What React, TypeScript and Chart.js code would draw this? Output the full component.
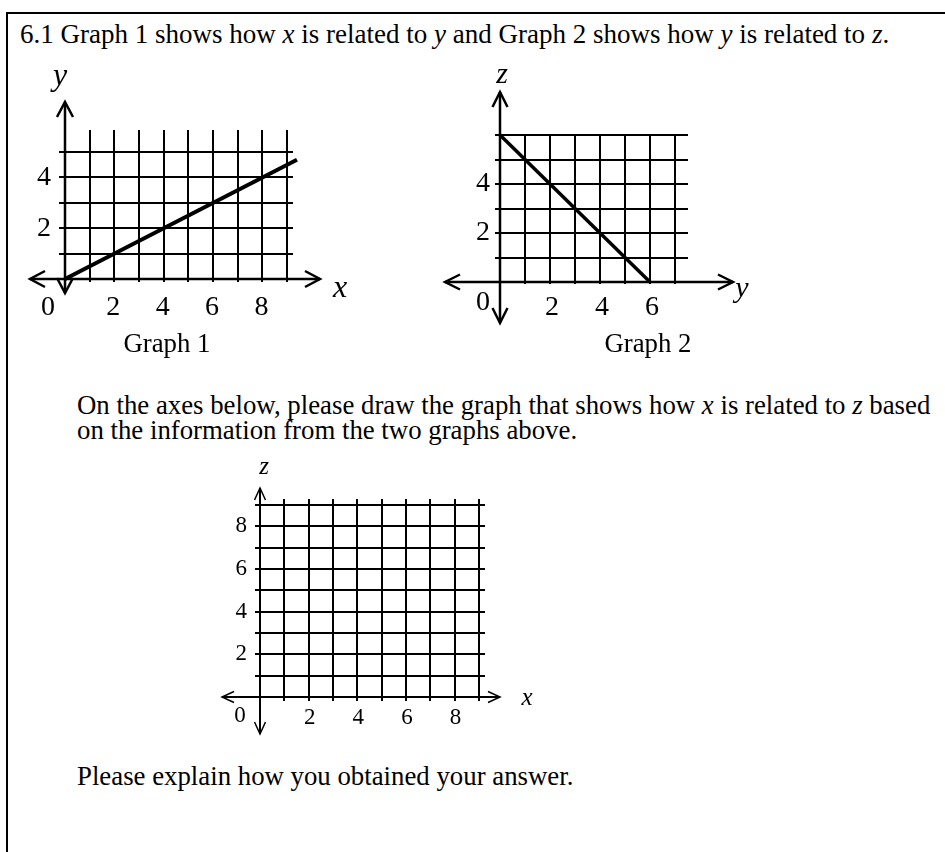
import React, { useEffect, useRef } from "react";
import { Chart, registerables } from "chart.js";

Chart.register(...registerables);

const SERIF = '"Liberation Serif", "Times New Roman", Times, serif';

// Graph 1: y against x
const g1LineX = [0, 9.4];
const g1LineY = [0, 4.7];
const g1GridX = [0, 1, 2, 3, 4, 5, 6, 7, 8, 9];
const g1GridY = [0, 1, 2, 3, 4, 5];
const g1TickX = [2, 4, 6, 8];
const g1TickY = [2, 4];

// Graph 2: z against y
const g2LineY = [0, 6];
const g2LineZ = [6, 0];
const g2GridX = [0, 1, 2, 3, 4, 5, 6, 7];
const g2GridY = [0, 1, 2, 3, 4, 5, 6];
const g2TickX = [2, 4, 6];
const g2TickY = [2, 4];

// Answer grid: z against x (left blank for the student)
const g3GridX = [0, 1, 2, 3, 4, 5, 6, 7, 8, 9];
const g3GridY = [0, 1, 2, 3, 4, 5, 6, 7, 8, 9];
const g3TickX = [2, 4, 6, 8];
const g3TickY = [2, 4, 6, 8];

type Rect = { left: number; top: number; width: number; height: number };
type Area = { left: number; top: number; right: number; bottom: number };

type GraphSpec = {
  box: Rect;
  area: Area;
  xMax: number;
  yMax: number;
  gridX: number[];
  gridY: number[];
  tickX: number[];
  tickY: number[];
  xName: string;
  yName: string;
  line?: { x: number[]; y: number[] };
  style: {
    tickLenX: number;
    tickLenY: number;
    gridWidth: number;
    axisWidth: number;
    lineWidth: number;
    arrows: { left: number; right: number; up: number; down: number };
    head: { len: number; half: number; width: number };
    labelSize: number;
    xLabelDx: number;
    xLabelDy: number;
    yLabelGap: number;
    zero: { dx: number; dy: number };
    nameSize: number;
    xNamePos: { dx: number; dy: number };
    yNamePos: { dx: number; dy: number };
  };
};

const graph1: GraphSpec = {
  box: { left: 0, top: 60, width: 370, height: 300 },
  area: { left: 65, top: 130, right: 293, bottom: 279 },
  xMax: 9.24,
  yMax: 5.87,
  gridX: g1GridX,
  gridY: g1GridY,
  tickX: g1TickX,
  tickY: g1TickY,
  xName: "x",
  yName: "y",
  line: { x: g1LineX, y: g1LineY },
  style: {
    tickLenX: 3,
    tickLenY: 6,
    gridWidth: 2,
    axisWidth: 2.5,
    lineWidth: 4,
    arrows: { left: 35, right: 27, up: 28, down: 14 },
    head: { len: 15, half: 8, width: 2.5 },
    labelSize: 28,
    xLabelDx: -1,
    xLabelDy: 29,
    yLabelGap: 14,
    zero: { dx: -17, dy: 29 },
    nameSize: 32,
    xNamePos: { dx: 47, dy: 18 },
    yNamePos: { dx: -5, dy: -45 },
  },
};

const graph2: GraphSpec = {
  box: { left: 420, top: 55, width: 345, height: 300 },
  area: { left: 500, top: 135, right: 688, bottom: 282 },
  xMax: 7.52,
  yMax: 6,
  gridX: g2GridX,
  gridY: g2GridY,
  tickX: g2TickX,
  tickY: g2TickY,
  xName: "y",
  yName: "z",
  line: { x: g2LineY, y: g2LineZ },
  style: {
    tickLenX: 2,
    tickLenY: 5,
    gridWidth: 2,
    axisWidth: 2.5,
    lineWidth: 3.5,
    arrows: { left: 55, right: 45, up: 43, down: 41 },
    head: { len: 15, half: 7.5, width: 2.5 },
    labelSize: 28,
    xLabelDx: 2,
    xLabelDy: 26,
    yLabelGap: 10,
    zero: { dx: -17, dy: 21 },
    nameSize: 30,
    xNamePos: { dx: 54, dy: 15 },
    yNamePos: { dx: 2, dy: -52 },
  },
};

const graph3: GraphSpec = {
  box: { left: 190, top: 440, width: 360, height: 310 },
  area: { left: 260, top: 499, right: 485, bottom: 697 },
  xMax: 9.25,
  yMax: 9.28,
  gridX: g3GridX,
  gridY: g3GridY,
  tickX: g3TickX,
  tickY: g3TickY,
  xName: "x",
  yName: "z",
  style: {
    tickLenX: 4,
    tickLenY: 5,
    gridWidth: 2,
    axisWidth: 2,
    lineWidth: 3,
    arrows: { left: 38, right: 15, up: 11, down: 37 },
    head: { len: 12, half: 5.5, width: 1.5 },
    labelSize: 23,
    xLabelDx: 1,
    xLabelDy: 21,
    yLabelGap: 13,
    zero: { dx: -20, dy: 19 },
    nameSize: 25,
    xNamePos: { dx: 42, dy: 8 },
    yNamePos: { dx: 4, dy: -25 },
  },
};

function chevron(
  ctx: CanvasRenderingContext2D,
  tipX: number,
  tipY: number,
  dirX: number,
  dirY: number,
  len: number,
  half: number
) {
  const bx = tipX - dirX * len;
  const by = tipY - dirY * len;
  const px = -dirY * half;
  const py = dirX * half;
  ctx.beginPath();
  ctx.moveTo(bx + px, by + py);
  ctx.lineTo(tipX, tipY);
  ctx.lineTo(bx - px, by - py);
  ctx.stroke();
}

function GridGraph({ spec }: { spec: GraphSpec }) {
  const ref = useRef<HTMLCanvasElement>(null);

  useEffect(() => {
    const canvas = ref.current;
    if (!canvas) return;
    const { box, area, style } = spec;
    const padding = {
      left: area.left - box.left,
      right: box.left + box.width - area.right,
      top: area.top - box.top,
      bottom: box.top + box.height - area.bottom,
    };

    const plugin = {
      id: "gridAxes",
      // square grid with short tick stubs outside the axes
      beforeDatasetsDraw(chart: any) {
        const ctx: CanvasRenderingContext2D = chart.ctx;
        const xs = chart.scales.x;
        const ys = chart.scales.y;
        const ca = chart.chartArea;
        ctx.save();
        ctx.strokeStyle = "#000";
        ctx.lineWidth = style.gridWidth;
        ctx.lineCap = "butt";
        ctx.beginPath();
        spec.gridX.forEach((v) => {
          const px = Math.round(xs.getPixelForValue(v));
          ctx.moveTo(px, ca.top);
          ctx.lineTo(px, ca.bottom + style.tickLenX);
        });
        spec.gridY.forEach((v) => {
          const py = Math.round(ys.getPixelForValue(v));
          ctx.moveTo(ca.left - style.tickLenY, py);
          ctx.lineTo(ca.right, py);
        });
        ctx.stroke();
        ctx.restore();
      },
      // axes with open arrowheads, tick numbers and axis names
      afterDraw(chart: any) {
        const ctx: CanvasRenderingContext2D = chart.ctx;
        const xs = chart.scales.x;
        const ys = chart.scales.y;
        const ca = chart.chartArea;
        const ox = Math.round(xs.getPixelForValue(0));
        const oy = Math.round(ys.getPixelForValue(0));
        const a = style.arrows;
        ctx.save();
        ctx.strokeStyle = "#000";
        ctx.fillStyle = "#000";
        ctx.lineWidth = style.axisWidth;
        ctx.lineCap = "butt";
        ctx.beginPath();
        ctx.moveTo(ox - a.left, oy);
        ctx.lineTo(ca.right + a.right, oy);
        ctx.moveTo(ox, ca.top - a.up);
        ctx.lineTo(ox, oy + a.down);
        ctx.stroke();

        ctx.lineWidth = style.head.width;
        ctx.lineJoin = "miter";
        const { len, half } = style.head;
        chevron(ctx, ox - a.left, oy, -1, 0, len, half);
        chevron(ctx, ca.right + a.right, oy, 1, 0, len, half);
        chevron(ctx, ox, ca.top - a.up, 0, -1, len, half);
        chevron(ctx, ox, oy + a.down, 0, 1, len, half);

        ctx.font = `${style.labelSize}px ${SERIF}`;
        ctx.textBaseline = "middle";
        ctx.textAlign = "center";
        spec.tickX.forEach((v) => {
          ctx.fillText(String(v), xs.getPixelForValue(v) + style.xLabelDx, oy + style.xLabelDy);
        });
        ctx.fillText("0", ox + style.zero.dx, oy + style.zero.dy);
        ctx.textAlign = "right";
        spec.tickY.forEach((v) => {
          ctx.fillText(String(v), ox - style.yLabelGap, ys.getPixelForValue(v));
        });

        ctx.font = `italic ${style.nameSize}px ${SERIF}`;
        ctx.textBaseline = "alphabetic";
        ctx.textAlign = "center";
        ctx.fillText(spec.xName, ca.right + style.xNamePos.dx, oy + style.xNamePos.dy);
        ctx.fillText(spec.yName, ox + style.yNamePos.dx, ca.top + style.yNamePos.dy);
        ctx.restore();
      },
    };

    const datasets = spec.line
      ? [
          {
            data: spec.line.x.map((x, i) => ({ x, y: spec.line!.y[i] })),
            showLine: true,
            borderColor: "#000",
            backgroundColor: "#000",
            borderWidth: style.lineWidth,
            pointRadius: 0,
            clip: false as any,
          },
        ]
      : [];

    const chart = new Chart(canvas, {
      type: "scatter",
      data: { datasets: datasets as any },
      options: {
        responsive: false,
        animation: false,
        events: [],
        layout: { padding },
        plugins: { legend: { display: false }, tooltip: { enabled: false } },
        scales: {
          x: { type: "linear", display: false, min: 0, max: spec.xMax },
          y: { type: "linear", display: false, min: 0, max: spec.yMax },
        },
      },
      plugins: [plugin],
    });
    return () => chart.destroy();
  }, [spec]);

  return (
    <canvas
      ref={ref}
      width={spec.box.width}
      height={spec.box.height}
      style={{
        position: "absolute",
        left: spec.box.left,
        top: spec.box.top,
        width: spec.box.width,
        height: spec.box.height,
      }}
    />
  );
}

function Line({
  left,
  baseline,
  children,
  center,
  size = 26.8,
}: {
  left: number;
  baseline: number;
  children: React.ReactNode;
  center?: boolean;
  size?: number;
}) {
  return (
    <div
      style={{
        position: "absolute",
        left: center ? left - 150 : left,
        width: center ? 300 : undefined,
        textAlign: center ? "center" : "left",
        top: baseline - 0.8375 * size,
        fontFamily: SERIF,
        fontSize: size,
        lineHeight: `${size}px`,
        whiteSpace: "nowrap",
        color: "#000",
      }}
    >
      {children}
    </div>
  );
}

export default function App() {
  return (
    <div
      style={{
        position: "absolute",
        left: 0,
        top: 0,
        width: 945,
        height: 852,
        overflow: "hidden",
        background: "#fff",
      }}
    >
      <div
        style={{
          position: "absolute",
          left: 6,
          top: 12,
          width: 1000,
          height: 1000,
          borderLeft: "2px solid #000",
          borderTop: "2px solid #000",
        }}
      />
      <Line left={20} baseline={44} size={27}>
        6.1 Graph 1 shows how <i>x</i> is related to <i>y</i> and Graph 2 shows how <i>y</i> is
        related to <i>z</i>.
      </Line>
      <GridGraph spec={graph1} />
      <GridGraph spec={graph2} />
      <Line left={167} baseline={352} center>
        Graph 1
      </Line>
      <Line left={648} baseline={352} center>
        Graph 2
      </Line>
      <Line left={77} baseline={414}>
        On the axes below, please draw the graph that shows how <i>x</i> is related to <i>z</i> based
      </Line>
      <Line left={77} baseline={439}>
        on the information from the two graphs above.
      </Line>
      <GridGraph spec={graph3} />
      <Line left={77} baseline={785}>
        Please explain how you obtained your answer.
      </Line>
    </div>
  );
}
